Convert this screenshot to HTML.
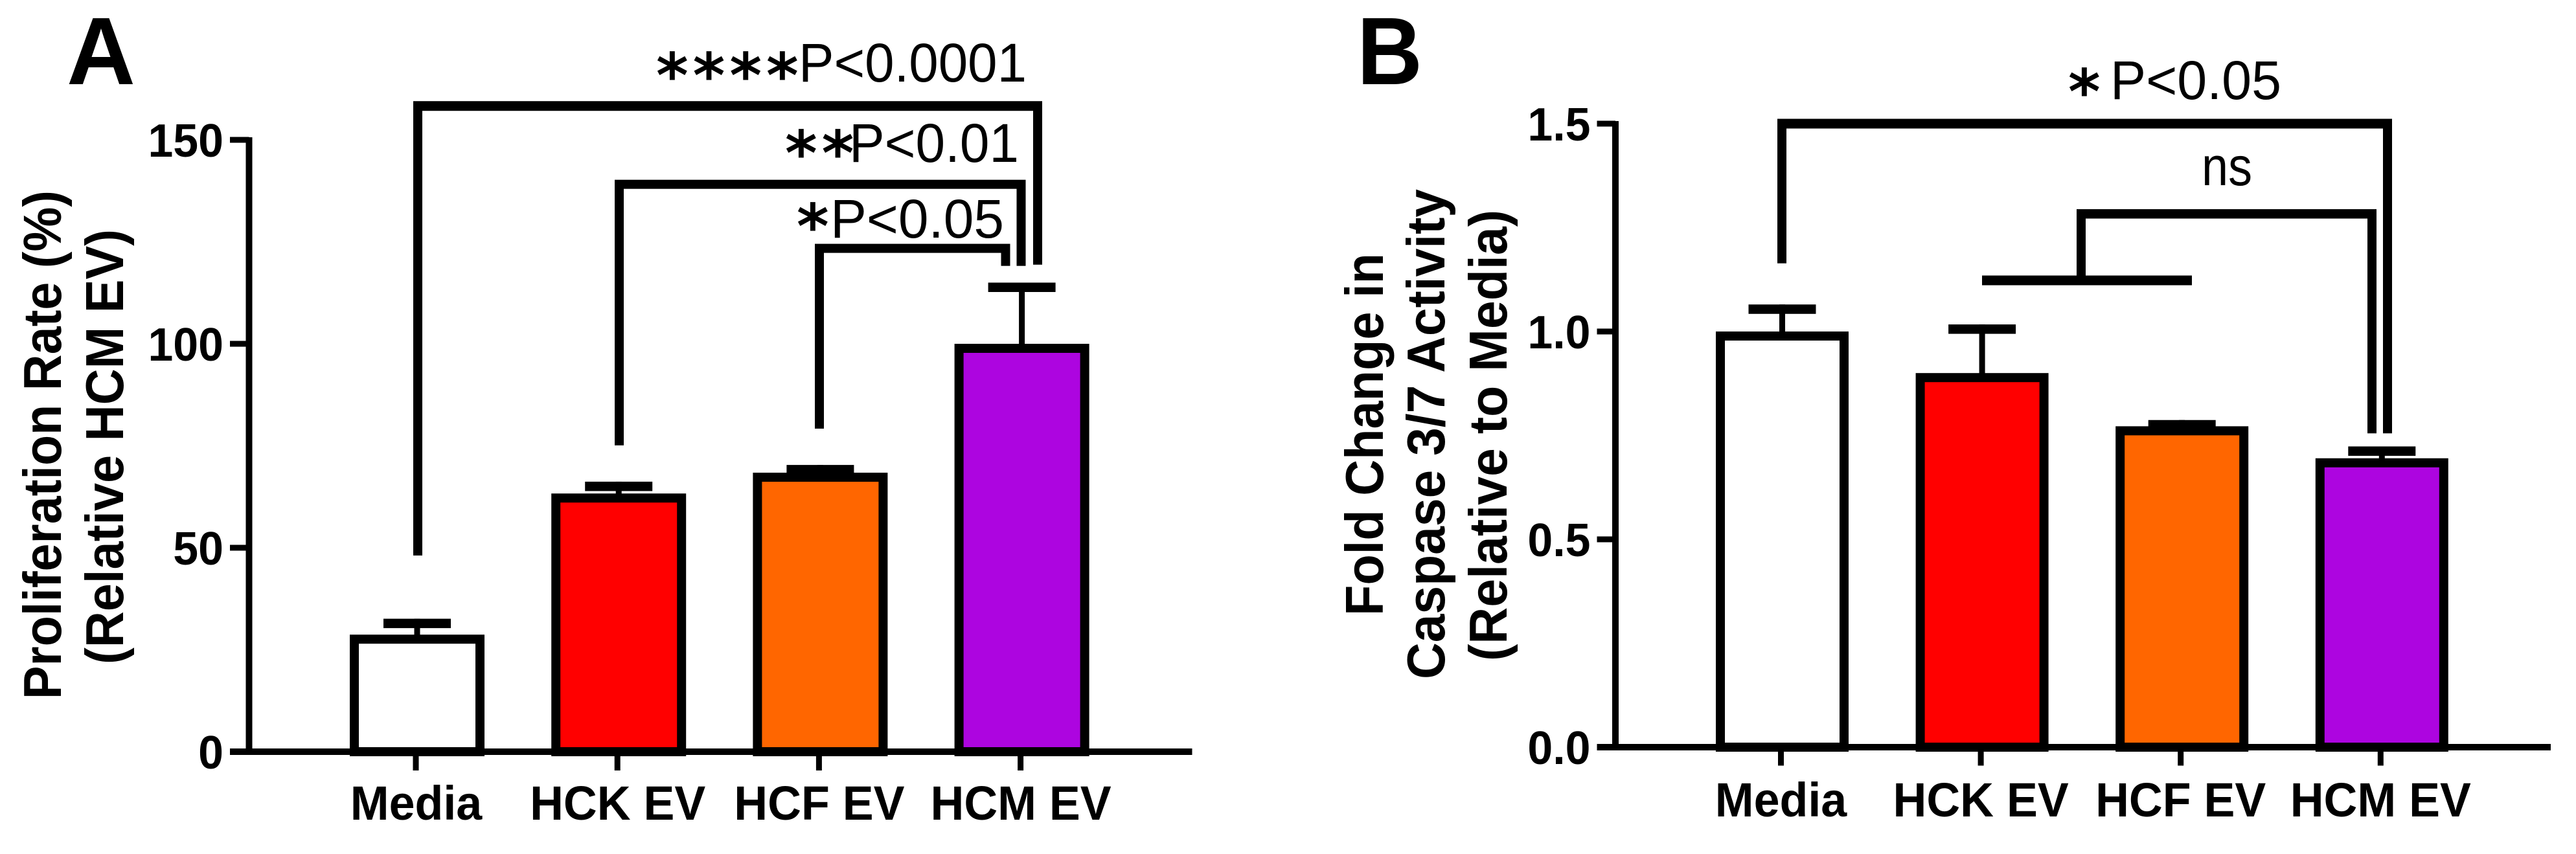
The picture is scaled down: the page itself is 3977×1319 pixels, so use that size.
<!DOCTYPE html>
<html lang="en">
<head>
<meta charset="utf-8">
<title>Proliferation and caspase activity bar charts</title>
<style>
html,body{margin:0;padding:0;background:#fff;}
svg{display:block;}
text{font-family:"Liberation Sans",Arial,sans-serif;fill:#000;}
.b{font-weight:700;}
.star{font-family:"DejaVu Sans",sans-serif;font-weight:700;font-size:95px;letter-spacing:7px;}
.sig{font-size:84px;}
.ttl{font-weight:700;font-size:77.5px;}
.pl{font-weight:700;font-size:148px;}
</style>
</head>
<body>
<svg id="fig" xmlns="http://www.w3.org/2000/svg" width="3977" height="1319" viewBox="0 0 3977 1319">
  <rect width="3977" height="1319" fill="#fff"/>
  <g id="panelA">
    <text class="pl" x="103" y="130" textLength="106" lengthAdjust="spacingAndGlyphs">A</text>
    <text class="ttl" transform="translate(94 1080) rotate(-90) scale(1 1.07)" textLength="786" lengthAdjust="spacingAndGlyphs">Proliferation Rate (%)</text>
    <text class="ttl" transform="translate(190 1026) rotate(-90) scale(1 1.07)" textLength="672" lengthAdjust="spacingAndGlyphs">(Relative HCM EV)</text>
    <text class="star" x="1013" y="150">****</text>
    <text class="sig" x="1233" y="126" textLength="352" lengthAdjust="spacingAndGlyphs">P&lt;0.0001</text>
    <text class="star" x="1212" y="270">**</text>
    <text class="sig" x="1311" y="250" textLength="262" lengthAdjust="spacingAndGlyphs">P&lt;0.01</text>
    <text class="star" x="1230" y="383">*</text>
    <text class="sig" x="1282" y="367" textLength="268" lengthAdjust="spacingAndGlyphs">P&lt;0.05</text>
  </g>
  <g id="panelB">
    <text class="pl" x="2095" y="130" textLength="101" lengthAdjust="spacingAndGlyphs">B</text>
    <text class="ttl" transform="translate(2135 951) rotate(-90) scale(1 1.07)" textLength="560" lengthAdjust="spacingAndGlyphs">Fold Change in</text>
    <text class="ttl" transform="translate(2230 1049) rotate(-90) scale(1 1.07)" textLength="757" lengthAdjust="spacingAndGlyphs">Caspase 3/7 Activity</text>
    <text class="ttl" transform="translate(2326 1021) rotate(-90) scale(1 1.07)" textLength="697" lengthAdjust="spacingAndGlyphs">(Relative to Media)</text>
    <text class="star" x="3193" y="175">*</text>
    <text class="sig" x="3258" y="153" textLength="264" lengthAdjust="spacingAndGlyphs">P&lt;0.05</text>
    <text class="sig" x="3399" y="286" textLength="78" lengthAdjust="spacingAndGlyphs">ns</text>
  </g>
</svg>
<script>
// Panel A data
const categoriesA = ['Media', 'HCK EV', 'HCF EV', 'HCM EV'];
const meansA = [28.7, 63.3, 68.4, 100];
const errorTopsA = [32.6, 66.2, 70.3, 115];
const yTicksA = [0, 50, 100, 150];
const yTickLabelsA = ['0', '50', '100', '150'];
// Panel B data
const categoriesB = ['Media', 'HCK EV', 'HCF EV', 'HCM EV'];
const meansB = [1.0, 0.90, 0.772, 0.695];
const errorTopsB = [1.065, 1.017, 0.787, 0.7235];
const yTicksB = [0, 0.5, 1.0, 1.5];
const yTickLabelsB = ['0.0', '0.5', '1.0', '1.5'];
const barColors = ['#ffffff', '#ff0000', '#ff6600', '#ad05e0'];

const NS = 'http://www.w3.org/2000/svg';
function mk(tag, parent) {
  const e = document.createElementNS(NS, tag);
  parent.appendChild(e);
  return e;
}
function slug(s) {
  return String(s).toLowerCase().replace(/[^a-z0-9]+/g, '-');
}
function box(e, x, y, w, h) {
  e.setAttribute('x', x);
  e.setAttribute('y', y);
  e.setAttribute('width', w);
  e.setAttribute('height', h);
  e.setAttribute('fill', '#000');
}

function drawPanel(group, tag, cats, means, tops, ticks, tickLabels, geo) {
  const yScale = v => geo.y0 - (v - ticks[0]) / (ticks[ticks.length - 1] - ticks[0]) * (geo.y0 - geo.yTop);
  const xScale = i => geo.x0 + i * geo.step;

  cats.forEach((c, i) => {
    const cx = xScale(i) + 2;
    const top = yScale(means[i]);
    const bar = mk('rect', group);
    
    
    bar.setAttribute('x', cx - geo.barW / 2 + 7);
    bar.setAttribute('y', top + 7);
    bar.setAttribute('width', geo.barW - 14);
    bar.setAttribute('height', yScale(0) - top - 7);
    bar.setAttribute('fill', barColors[i]);
    bar.setAttribute('stroke', '#000');
    bar.setAttribute('stroke-width', 14);

    const capTop = yScale(tops[i]);
    const stem = mk('rect', group);
    
    
    box(stem, cx - 4.5, capTop, 9, Math.max(0, top - capTop + 2));
    const cap = mk('rect', group);
    
    
    box(cap, cx - 52, capTop, 104, 14.5);
  });

  const yAxis = mk('rect', group);
  
  
  box(yAxis, geo.axisX - 5, geo.yTop - 4, 10, geo.y0 - geo.yTop + 8);

  const xAxis = mk('rect', group);
  
  
  box(xAxis, geo.tickLeft, geo.y0 - 5, geo.xEnd - geo.tickLeft, 10);

  ticks.forEach((t, i) => {
    const y = yScale(t);
    const mark = mk('rect', group);
    
    
    box(mark, geo.tickLeft, y - 4.5, geo.axisX - geo.tickLeft, 9);
    const lab = mk('text', group);
    
    
    lab.setAttribute('class', 'b');
    lab.setAttribute('font-size', 72);
    lab.setAttribute('text-anchor', 'end');
    lab.setAttribute('x', geo.tickLeft - 10);
    lab.setAttribute('y', y + 26);
    lab.textContent = tickLabels[i];
    lab.setAttribute('textLength', lab.getComputedTextLength() * 0.97);
    lab.setAttribute('lengthAdjust', 'spacingAndGlyphs');
  });

  cats.forEach((c, i) => {
    const x = xScale(i);
    const mark = mk('rect', group);
    
    
    box(mark, x - 4.5, geo.y0, 9, geo.tickLen + 0);
    const lab = mk('text', group);
    
    
    lab.setAttribute('class', 'b');
    lab.setAttribute('font-size', 74);
    lab.setAttribute('text-anchor', 'middle');
    lab.setAttribute('x', x + geo.labelShift);
    lab.setAttribute('y', geo.labelY);
    lab.textContent = c;
    lab.setAttribute('textLength', lab.getComputedTextLength() * 0.97);
    lab.setAttribute('lengthAdjust', 'spacingAndGlyphs');
  });
  return { xScale, yScale };
}

// Draws a bracket as three filled strokes; levels are expressed in axis units.
function drawBracket(group, name, scale, x1, x2, level, leg1, leg2, thick) {
  const yT = scale.yScale(level);
  const h = mk('rect', group);
  
  
  box(h, x1 - 7, yT - thick / 2, x2 - x1 + 14, thick);
  const l = mk('rect', group);
  
  
  box(l, x1 - 7, yT, 14, scale.yScale(leg1) - yT);
  const r = mk('rect', group);
  
  
  box(r, x2 - 7, yT, 14, scale.yScale(leg2) - yT);
}

const gA = document.getElementById('panelA');
const gB = document.getElementById('panelB');

const sA = drawPanel(gA, 'a', categoriesA, meansA, errorTopsA, yTicksA, yTickLabelsA, {
  x0: 642, step: 311.2, y0: 1161, yTop: 216, axisX: 384.5, tickLeft: 355, xEnd: 1840.5,
  barW: 208, tickLen: 29, labelY: 1266, labelShift: 0.5
});
const sB = drawPanel(gB, 'b', categoriesB, meansB, errorTopsB, yTicksB, yTickLabelsB, {
  x0: 2749.5, step: 308.6, y0: 1154, yTop: 191, axisX: 2494, tickLeft: 2465.5, xEnd: 3938,
  barW: 205, tickLen: 28.5, labelY: 1261, labelShift: 0
});

drawBracket(gA, 'bracket-media-hcm', sA, 645, 1602, 158.3, 48.1, 119.4, 15);
drawBracket(gA, 'bracket-hck-hcm', sA, 956, 1576.5, 139.1, 75.1, 119.1, 14);
drawBracket(gA, 'bracket-hcf-hcm', sA, 1265, 1552.5, 123.4, 79.2, 119.1, 14);

drawBracket(gB, 'bracket-media-hcm-b', sB, 2751, 3686, 1.5, 1.164, 0.755, 15);
drawBracket(gB, 'bracket-ns', sB, 3213, 3662, 1.283, 1.12, 0.755, 14.5);

const nsBar = mk('rect', gB);


box(nsBar, 3060, sB.yScale(1.123) - 7.5, 324, 15);
</script>
</body>
</html>
